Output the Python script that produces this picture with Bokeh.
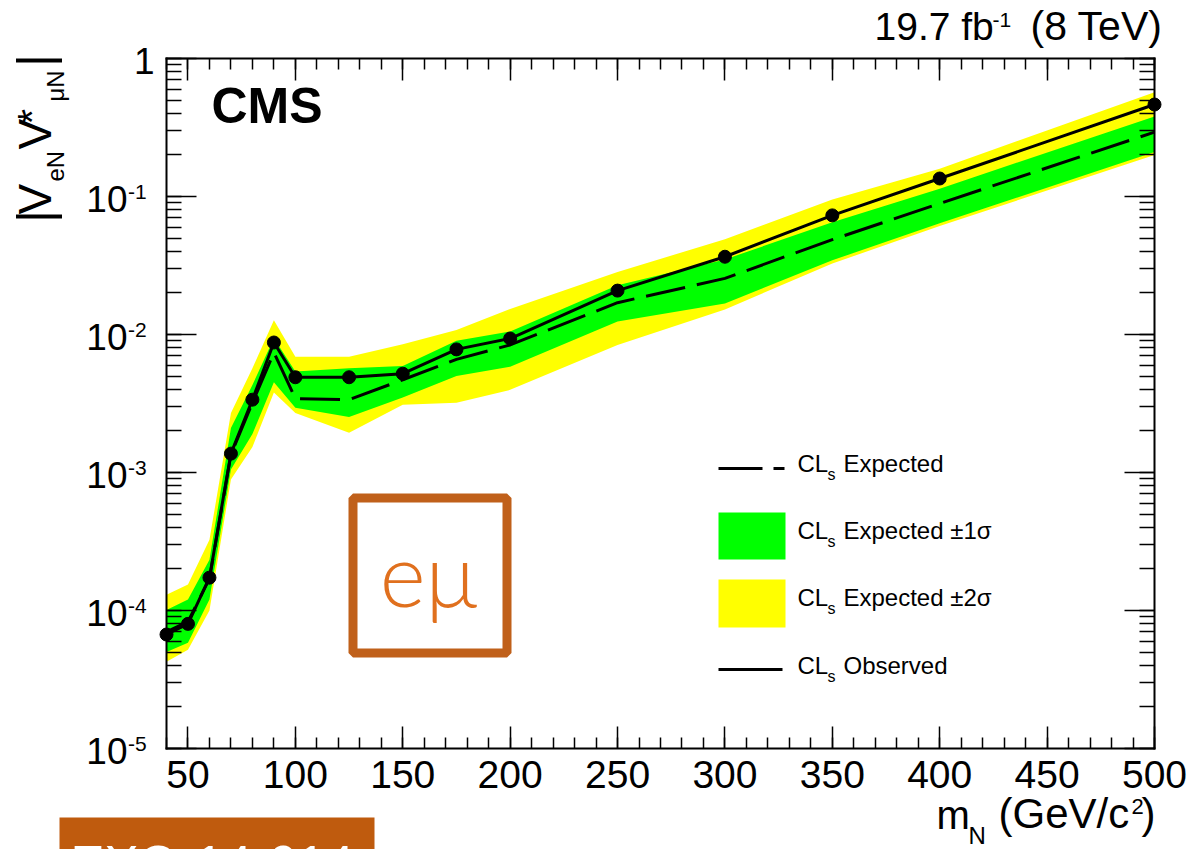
import math
from bokeh.plotting import figure
from bokeh.models import (LinearAxis, LogAxis, SingleIntervalTicker, LogTicker, Label,
                          BoxAnnotation, Arrow, CustomJSTickFormatter, Range1d)
from bokeh.embed import file_html
from bokeh.resources import INLINE

# ---------------- data ----------------
mass = [40, 50, 60, 70, 80, 90, 100, 125, 150, 175, 200, 250, 300, 350, 400, 500]
observed = [6.7e-5, 8.0e-5, 1.73e-4, 1.37e-3, 3.37e-3, 8.75e-3, 4.9e-3, 4.9e-3,
            5.2e-3, 7.8e-3, 9.35e-3, 2.08e-2, 3.66e-2, 7.3e-2, 0.135, 0.464]
expected = [7.0e-5, 8.3e-5, 1.7e-4, 1.35e-3, 3.2e-3, 7.4e-3, 3.43e-3, 3.37e-3,
            4.7e-3, 6.6e-3, 8.4e-3, 1.7e-2, 2.55e-2, 4.87e-2, 8.9e-2, 0.293]
one_sigma_hi = [1.01e-4, 1.2e-4, 2.33e-4, 2.1e-3, 4.3e-3, 9.4e-3, 5.4e-3, 5.7e-3,
                5.9e-3, 9.0e-3, 1.05e-2, 2.27e-2, 3.5e-2, 6.5e-2, 0.114, 0.38]
one_sigma_lo = [5.0e-5, 5.85e-5, 1.2e-4, 1.05e-3, 1.9e-3, 4.5e-3, 2.95e-3, 2.52e-3,
                3.5e-3, 5.0e-3, 5.85e-3, 1.24e-2, 1.68e-2, 3.45e-2, 6.4e-2, 0.21]
two_sigma_hi = [1.3e-4, 1.54e-4, 3.25e-4, 2.7e-3, 5.7e-3, 1.27e-2, 6.9e-3, 6.9e-3,
                8.5e-3, 1.08e-2, 1.53e-2, 2.84e-2, 4.9e-2, 9.5e-2, 0.159, 0.57]
two_sigma_lo = [4.26e-5, 5.2e-5, 1.0e-4, 8.9e-4, 1.53e-3, 3.8e-3, 2.7e-3, 1.94e-3,
                3.1e-3, 3.2e-3, 3.97e-3, 8.4e-3, 1.52e-2, 3.27e-2, 6.1e-2, 0.20]

x_limits = [40, 500]
y_limits = [1e-5, 1.0]
x_tick_interval = 50
y_ticks = [1e-5, 1e-4, 1e-3, 1e-2, 1e-1, 1.0]
legend_labels = ["Expected", "Expected \u00b11\u03c3", "Expected \u00b12\u03c3", "Observed"]

# ---------------- layout ----------------
W, H = 1192, 849
FL, FR, FT, FB = 166, 1154, 58, 748   # edges of the axes box, in page pixels
FONT = "Liberation Sans"
K_BASE = 0.40   # empirical baseline correction (fraction of font size)

LY0, LY1 = math.log10(y_limits[0]), math.log10(y_limits[1])
XPP = (x_limits[1] - x_limits[0]) / (FR - FL)     # data units per pixel (x)
YPP = (LY1 - LY0) / (FB - FT)                      # decades per pixel (y)

# the plotting frame spans the whole canvas; the axes box is drawn by four
# axes pinned to the limits, so texts around the box are never clipped
x_range = Range1d(x_limits[0] - FL * XPP, x_limits[1] + (W - FR) * XPP)
y_range = Range1d(10 ** (LY0 - (H - FB) * YPP), 10 ** (LY1 + FT * YPP))

p = figure(width=W, height=H, x_range=x_range, y_range=y_range,
           y_axis_type="log", output_backend="svg", toolbar_location=None,
           min_border=0)
p.grid.visible = False
p.outline_line_color = None
p.background_fill_color = "white"
p.border_fill_color = "white"

empty = CustomJSTickFormatter(code="return ''")
xt = SingleIntervalTicker(interval=x_tick_interval, num_minor_ticks=5)
yt = LogTicker(num_minor_ticks=10)


def style_axis(ax, major, minor):
    ax.axis_line_width = 2
    ax.major_tick_in = major
    ax.major_tick_out = 0
    ax.minor_tick_in = minor
    ax.minor_tick_out = 0
    ax.major_tick_line_width = 1.5
    ax.minor_tick_line_width = 1.5
    ax.axis_line_color = "black"
    ax.axis_line_cap = "square"


bx = p.xaxis[0]
bx.ticker = xt
bx.fixed_location = y_limits[0]
bx.bounds = tuple(x_limits)
style_axis(bx, 22, 11)
bx.major_label_text_font = FONT
bx.major_label_text_font_size = "39px"
bx.major_label_text_color = "black"
bx.major_label_standoff = 12

ly = p.yaxis[0]
ly.ticker = yt
ly.formatter = empty
ly.fixed_location = x_limits[0]
ly.bounds = tuple(y_limits)
style_axis(ly, 30, 15)

tx = LinearAxis(ticker=xt, formatter=empty, fixed_location=y_limits[1], bounds=tuple(x_limits))
style_axis(tx, 22, 11)
p.add_layout(tx, "above")

ry = LogAxis(ticker=yt, formatter=empty, fixed_location=x_limits[1], bounds=tuple(y_limits))
style_axis(ry, 30, 15)
p.add_layout(ry, "right")

# ---------------- data marks ----------------
p.varea(x=mass, y1=two_sigma_lo, y2=two_sigma_hi, fill_color="#FFFF00")
p.varea(x=mass, y1=one_sigma_lo, y2=one_sigma_hi, fill_color="#00FF00")
p.line(mass, expected, line_color="black", line_width=3, line_dash="40 12")
p.line(mass, observed, line_color="black", line_width=3)
p.scatter(mass, observed, size=13, color="black")


# ---------------- helpers for annotation placement ----------------
def dx(px):
    return x_limits[0] + (px - FL) * XPP


def dy(py):
    return 10 ** (LY0 + (FB - py) * YPP)


def tick_py(v):
    return FB - (math.log10(v) - LY0) / YPP


def txt(text, px, py, size, align="left", bold=False, color="black", angle=0.0,
        font=FONT, **kw):
    if angle:
        px = px - K_BASE * size
    else:
        py = py - K_BASE * size
    p.add_layout(Label(x=dx(px), y=dy(py), text=text, text_font=font,
                       text_font_size=f"{size}px", text_align=align,
                       text_baseline="alphabetic", text_color=color,
                       text_font_style="bold" if bold else "normal", angle=angle, **kw))


# y tick labels (10^n)
for v in y_ticks:
    e = int(round(math.log10(v)))
    ty = tick_py(v)
    if e == 0:
        txt("1", 154, ty + 17, 37, align="right")
    else:
        txt("10", 127, ty + 17, 37, align="right")
        txt(str(e), 127.5, ty + 4, 21)

# y axis title |V_eN V*_muN| (rotated)
A = math.pi / 2
txt("|", 54.5, 222.5, 50, angle=A)
txt("V", 53, 214, 46, angle=A)
txt("eN", 65, 181, 24, angle=A)
txt("V", 53, 149, 46, angle=A)
txt("*", 47, 124, 40, angle=A)
txt("\u03bcN", 65, 101, 24, angle=A)
txt("|", 54.5, 66.5, 50, angle=A)

# x axis title m_N (GeV/c^2)
txt("m", 936, 830, 40)
txt("N", 968, 845, 24)
txt("(GeV/c", 998, 830, 42)
txt("2", 1131, 815, 22)
txt(")", 1141, 830, 42)

# top-right luminosity text
txt("19.7 fb", 874, 42, 39)
txt("-1", 992, 28, 21)
txt("(8 TeV)", 1030, 42, 41)

# CMS
txt("CMS", 211, 125, 50, bold=True)

# e-mu badge
p.add_layout(BoxAnnotation(left=dx(352.5), right=dx(506.5), top=dy(497.5), bottom=dy(652.5),
                           fill_color=None, fill_alpha=0, line_color="#C0601A",
                           line_alpha=1, line_width=9))
txt("e\u03bc", 428, 608, 88, align="center", color="#E0701E", font="Lato Light, Lato, sans-serif")

# legend
p.add_layout(Arrow(end=None, x_start=dx(718), y_start=dy(468), x_end=dx(784), y_end=dy(468),
                   line_color="black", line_width=3, line_dash="44 11"))
p.add_layout(BoxAnnotation(left=dx(718), right=dx(785), top=dy(512), bottom=dy(559),
                           fill_color="#00FF00", fill_alpha=1, line_color=None))
p.add_layout(BoxAnnotation(left=dx(718), right=dx(785), top=dy(579), bottom=dy(627),
                           fill_color="#FFFF00", fill_alpha=1, line_color=None))
p.add_layout(Arrow(end=None, x_start=dx(718), y_start=dy(669), x_end=dx(782), y_end=dy(669),
                   line_color="black", line_width=3))
for lab, base in zip(legend_labels, [473, 540, 607, 675]):
    txt("CL", 797, base, 24)
    txt("s", 827, base + 7, 16)
    txt(lab, 843, base, 24)

# EXO badge at the bottom (cut by the page edge, as in the reference)
p.add_layout(BoxAnnotation(left=dx(59), right=dx(374), top=dy(817), bottom=dy(870),
                           fill_color="#BF5B0E", fill_alpha=1, line_color=None))
txt("EXO-14-014", 70, 884, 51, color="white")

open("out.html", "w").write(file_html(p, INLINE))
